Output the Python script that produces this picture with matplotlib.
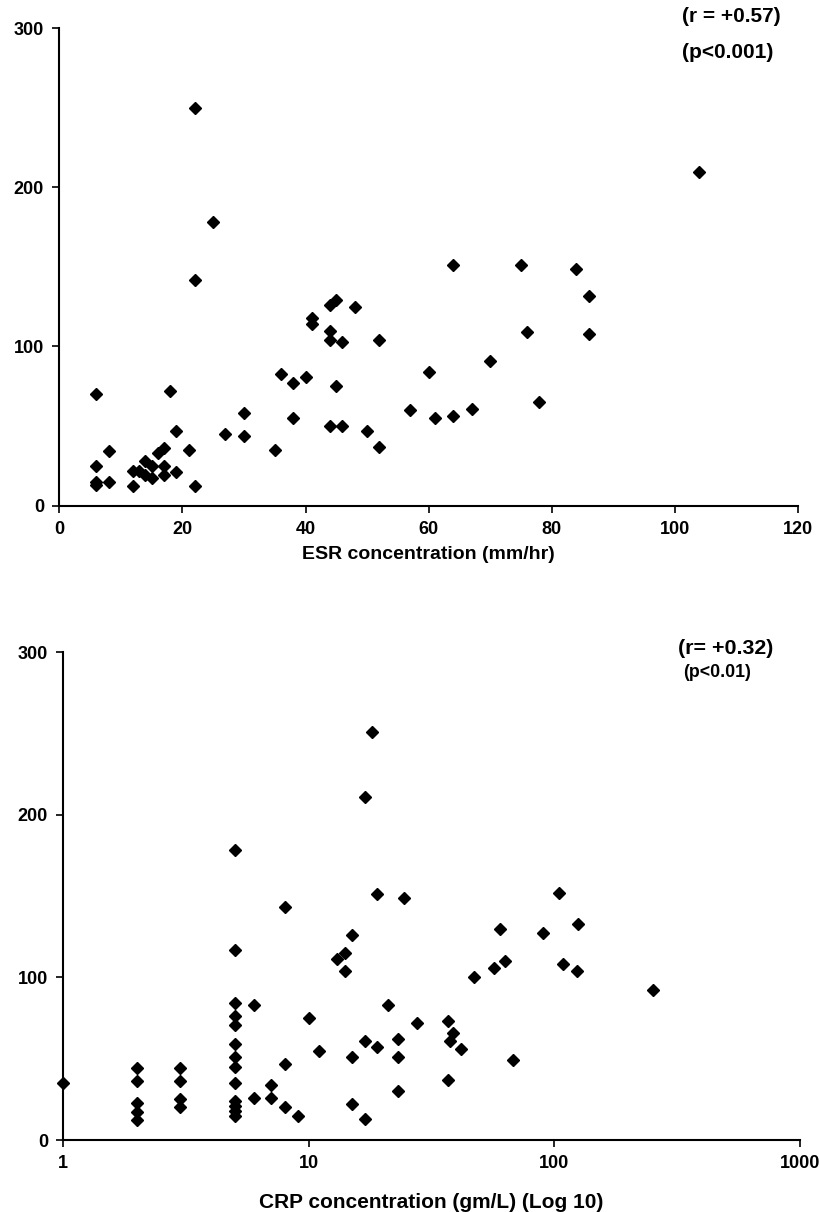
import matplotlib
matplotlib.use('Agg')
import matplotlib.pyplot as plt
from matplotlib.ticker import FixedLocator, NullLocator, FixedFormatter

plt.rcParams['font.family'] = ['Liberation Sans', 'DejaVu Sans']
plt.rcParams['font.weight'] = 'bold'

# top panel: ESR vs value
esr_x = [6, 6, 6, 6, 8, 8, 12, 12, 13, 14, 15, 14, 15, 16, 17, 17, 17, 18, 19, 19, 21, 22,
         22, 25, 22, 27, 30, 30, 35, 36, 38, 38, 40, 41, 41, 44, 45, 44, 44, 46, 45, 44, 46,
         48, 50, 52, 52, 57, 60, 61, 64, 64, 67, 70, 75, 76, 78, 84, 86, 86, 104]
esr_y = [70, 25, 15, 13, 34, 15, 22, 12, 22, 28, 25, 19, 17, 33, 36, 25, 19, 72, 47, 21, 35, 12,
         250, 178, 142, 45, 58, 44, 35, 83, 77, 55, 81, 118, 114, 126, 129, 110, 104, 103, 75, 50, 50,
         125, 47, 104, 37, 60, 84, 55, 151, 56, 61, 91, 151, 109, 65, 149, 132, 108, 210]

# bottom panel: CRP (log) vs value
crp_x = [1, 2, 2, 2, 2, 2, 3, 3, 3, 3,
         5, 5, 5, 5, 5, 5, 5, 5, 5, 5, 5, 5, 5,
         6, 6, 7, 7, 8, 8, 8, 9, 10, 11, 13, 14, 14, 15, 15, 15, 17, 18, 17, 17,
         19, 19, 21, 23, 23, 23, 24.5, 27.5, 36.7, 38.8, 37.6, 41.5, 37, 47, 57, 60, 63,
         68, 90, 104, 108, 124, 125, 252]
crp_y = [35, 44, 36, 23, 17, 12, 44, 36, 25, 20,
         178, 117, 84, 76, 71, 59, 51, 45, 35, 24, 21, 18, 15,
         83, 26, 34, 26, 143, 47, 20, 15, 75, 55, 111, 115, 104, 126, 51, 22, 211, 251, 61, 13,
         151, 57, 83, 62, 51, 30, 149, 72, 73, 66, 61, 56, 37, 100, 106, 130, 110,
         49, 127, 152, 108, 104, 133, 92]

fig = plt.figure(figsize=(8.2, 12.12), dpi=100)

ax1 = fig.add_axes([0.0723, 0.5829, 0.9008, 0.3937])
ax1.plot(esr_x, esr_y, 'D', color='black', markersize=6.4, clip_on=False)
ax1.set_xlim(0, 120)
ax1.set_ylim(0, 300)
ax1.set_xticks([0, 20, 40, 60, 80, 100, 120])
ax1.set_yticks([0, 100, 200, 300])
ax1.set_xlabel('ESR concentration (mm/hr)', fontsize=14, fontweight='bold', labelpad=6)
ax1.text(0.843, 1.024, '(r = +0.57)', transform=ax1.transAxes, fontsize=15,
         fontweight='bold', va='center', ha='left')
ax1.text(0.843, 0.95, '(p<0.001)', transform=ax1.transAxes, fontsize=15,
         fontweight='bold', va='center', ha='left')

ax2 = fig.add_axes([0.0772, 0.0594, 0.8984, 0.4026])
ax2.plot(crp_x, crp_y, 'D', color='black', markersize=6.4, clip_on=False)
ax2.set_xscale('log')
ax2.set_xlim(1, 1000)
ax2.set_ylim(0, 300)
ax2.xaxis.set_major_locator(FixedLocator([1, 10, 100, 1000]))
ax2.xaxis.set_major_formatter(FixedFormatter(['1', '10', '100', '1000']))
ax2.xaxis.set_minor_locator(NullLocator())
ax2.set_yticks([0, 100, 200, 300])
ax2.set_xlabel('CRP concentration (gm/L) (Log 10)', fontsize=15, fontweight='bold', labelpad=15)
ax2.text(0.834, 1.008, '(r= +0.32)', transform=ax2.transAxes, fontsize=15.4,
         fontweight='bold', va='center', ha='left')
ax2.text(0.841, 0.959, '(p<0.01)', transform=ax2.transAxes, fontsize=12.8,
         fontweight='bold', va='center', ha='left')

for ax in (ax1, ax2):
    ax.spines['top'].set_visible(False)
    ax.spines['right'].set_visible(False)
    ax.spines['left'].set_linewidth(1.5)
    ax.spines['bottom'].set_linewidth(1.5)
    ax.tick_params(direction='out', length=5, width=1.2, labelsize=13, pad=6)
    for lab in ax.get_xticklabels() + ax.get_yticklabels():
        lab.set_fontweight('bold')

fig.savefig('out.png', dpi=100)
